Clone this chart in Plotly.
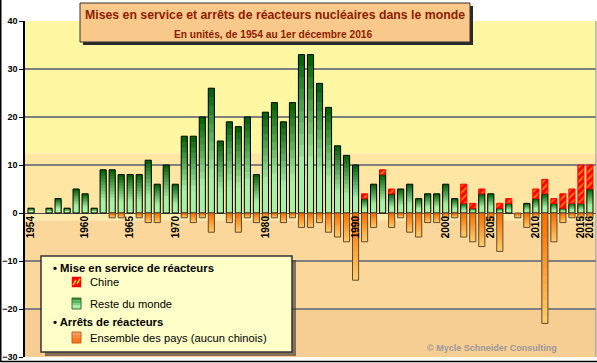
import plotly.graph_objects as go

# ---------------- data ----------------
years = list(range(1954, 2017))
rest_of_world = [1, 0, 1, 3, 1, 5, 4, 1, 9, 9,
                 8, 8, 8, 11, 6, 10, 6, 16, 16, 20,
                 26, 15, 19, 18, 20, 8, 21, 23, 19, 23,
                 33, 33, 27, 22, 14, 12, 10, 3, 6, 8,
                 4, 5, 6, 3, 4, 4, 6, 3, 2, 1,
                 4, 4, 1, 2, 0, 2, 3, 4, 2, 1,
                 2, 2, 5]
china = [0, 0, 0, 0, 0, 0, 0, 0, 0, 0,
         0, 0, 0, 0, 0, 0, 0, 0, 0, 0,
         0, 0, 0, 0, 0, 0, 0, 0, 0, 0,
         0, 0, 0, 0, 0, 0, 0, 1, 0, 1,
         1, 0, 0, 0, 0, 0, 0, 0, 4, 1,
         1, 0, 1, 1, 0, 0, 2, 3, 1, 3,
         3, 8, 5]
shutdowns = [0, 0, 0, 0, 0, 0, 0, 0, 0, -1,
             -1, 0, -1, -2, -2, 0, 0, -1, -2, -1,
             -4, 0, -2, -4, -1, -2, -1, -1, -2, -1,
             -3, -3, -2, -4, -5, -6, -14, -6, -3, 0,
             -3, -1, -4, -5, -2, -2, -1, -1, -5, -6,
             -7, -2, -8, 0, -1, -3, -1, -23, -6, -2,
             -1, -1, -1]
x_tick_years = [1954, 1960, 1965, 1970, 1980, 1990, 2000, 2005, 2010, 2015, 2016]
y_tick_values = [-30, -20, -10, 0, 10, 20, 30, 40]

title_text = "Mises en service et arrêts de réacteurs nucléaires dans le monde"
subtitle_text = "En unités, de 1954 au 1er décembre 2016"
legend_group1 = "• Mise en service de réacteurs"
legend_china = "Chine"
legend_row = "Reste du monde"
legend_group2 = "• Arrêts de réacteurs"
legend_shut = "Ensemble des pays (aucun chinois)"
credit_text = "© Mycle Schneider Consulting"

# ---------------- geometry helpers ----------------
W, H = 597, 363
L, R, T, B = 25, 596, 21, 357
FONT = "Liberation Sans, Arial, sans-serif"


def px(x):
    return (x - L) / (R - L)


def py(y):
    return (B - y) / (B - T)


def lerp(c1, c2, t):
    t = max(0.0, min(1.0, t))
    return "rgb(%d,%d,%d)" % tuple(round(a + (b - a) * t) for a, b in zip(c1, c2))


fig = go.Figure()
BW = 0.68
N = 14

# green gradient (dark at top, light at bottom)
g_dark, g_light = (8, 100, 8), (165, 242, 165)
for k in range(N):
    frac = k / N
    col = lerp(g_dark, g_light, (k / (N - 1)) / 0.72)
    fig.add_trace(go.Bar(
        x=years, y=[v * (1 - frac) if v else None for v in rest_of_world],
        width=BW, marker=dict(color=col, line=dict(width=0)),
        showlegend=False, hoverinfo="skip"))
fig.add_trace(go.Bar(
    x=years, y=[v if v else None for v in rest_of_world], width=BW,
    marker=dict(color="rgba(0,0,0,0)", line=dict(color="#000000", width=1)),
    name=legend_row, showlegend=False))

# China, hatched, stacked on green
fig.add_trace(go.Bar(
    x=years, y=[c if c else None for c in china], base=rest_of_world, width=BW,
    marker=dict(color="#FF0000",
                pattern=dict(shape="/", fgcolor="#FFFF00", bgcolor="#FF0000",
                             size=5, solidity=0.35),
                line=dict(color="#FF0000", width=1)),
    name=legend_china, showlegend=False))

# orange gradient (light at bottom, dark near zero)
o_light, o_dark = (255, 204, 105), (255, 110, 0)
for k in range(N):
    frac = k / N
    col = lerp(o_light, o_dark, k / (N - 1))
    fig.add_trace(go.Bar(
        x=years, y=[v * (1 - frac) if v else None for v in shutdowns],
        width=BW, marker=dict(color=col, line=dict(width=0)),
        showlegend=False, hoverinfo="skip"))
fig.add_trace(go.Bar(
    x=years, y=[v if v else None for v in shutdowns], width=BW,
    marker=dict(color="rgba(0,0,0,0)", line=dict(color="#5e4a30", width=1)),
    name=legend_shut, showlegend=False))

shapes = []
# background bands (data coords)
bands = [(12.4, 40, "#FFF7A2"), (0, 12.4, "#FFE6A2"), (-1.5, 0, "#FFECAC"),
         (-20, -1.5, "#FCD79B"), (-30, -20, "#F6CD93")]
for y0, y1, c in bands:
    shapes.append(dict(type="rect", xref="paper", yref="y", x0=0, x1=1, y0=y0, y1=y1,
                       fillcolor=c, line=dict(width=0), layer="below"))
# right border of plot
shapes.append(dict(type="line", xref="paper", yref="paper", x0=1, x1=1, y0=0, y1=1,
                   line=dict(color="#8a8a8a", width=1)))
# figure frame (left and bottom)
shapes.append(dict(type="line", xref="paper", yref="paper", x0=px(0.75), x1=px(0.75),
                   y0=py(0), y1=py(362), line=dict(color="#000000", width=1.5)))
shapes.append(dict(type="line", xref="paper", yref="paper", x0=px(0), x1=px(597),
                   y0=py(361.5), y1=py(361.5), line=dict(color="#000000", width=1.5)))

# title box with shadow
shapes.append(dict(type="rect", xref="paper", yref="paper", x0=px(83), x1=px(473),
                   y0=py(45), y1=py(6), fillcolor="#2a2a2a", line=dict(width=0)))
shapes.append(dict(type="rect", xref="paper", yref="paper", x0=px(80), x1=px(470),
                   y0=py(42), y1=py(3), fillcolor="#F9C98B",
                   line=dict(color="#333333", width=1)))

# legend box with shadow
shapes.append(dict(type="rect", xref="paper", yref="paper", x0=px(45), x1=px(296),
                   y0=py(356), y1=py(260), fillcolor="rgba(70,60,50,0.65)", line=dict(width=0)))
shapes.append(dict(type="rect", xref="paper", yref="paper", x0=px(41), x1=px(292),
                   y0=py(352), y1=py(256), fillcolor="#FFFFC8",
                   line=dict(color="#333333", width=1.5)))
# China swatch (red with yellow hatches)
shapes.append(dict(type="rect", xref="paper", yref="paper", x0=px(72), x1=px(81),
                   y0=py(287), y1=py(277), fillcolor="#FF0000", line=dict(color="#E00000", width=0.5)))
for a in (0, 4):
    shapes.append(dict(type="line", xref="paper", yref="paper",
                       x0=px(73 + a), x1=px(76 + a), y0=py(285 - a * 0.3), y1=py(280 - a * 0.3),
                       line=dict(color="#FFFF00", width=1.3)))
# green swatch (gradient)
sw_g = [(298, 300.5, "#2F8F2F"), (300.5, 303, "#55B255"), (303, 305.5, "#7fd27f"),
        (305.5, 309, "#a5eea5")]
for y0, y1, c in sw_g:
    shapes.append(dict(type="rect", xref="paper", yref="paper", x0=px(72), x1=px(81),
                       y0=py(y1), y1=py(y0), fillcolor=c, line=dict(width=0)))
shapes.append(dict(type="rect", xref="paper", yref="paper", x0=px(72), x1=px(81),
                   y0=py(309), y1=py(298), fillcolor="rgba(0,0,0,0)",
                   line=dict(color="#3a6a3a", width=1)))
# orange swatch (gradient)
sw_o = [(332, 335, "#FFA060"), (335, 338, "#FF8A3A"), (338, 341, "#FF7A20"), (341, 343, "#FF7010")]
for y0, y1, c in sw_o:
    shapes.append(dict(type="rect", xref="paper", yref="paper", x0=px(72), x1=px(81),
                       y0=py(y1), y1=py(y0), fillcolor=c, line=dict(width=0)))
shapes.append(dict(type="rect", xref="paper", yref="paper", x0=px(72), x1=px(81),
                   y0=py(343), y1=py(332), fillcolor="rgba(0,0,0,0)",
                   line=dict(color="#c06020", width=1)))

annotations = [
    dict(text=title_text, xref="paper", yref="paper", x=px(275), y=py(15),
         xanchor="center", yanchor="middle", showarrow=False,
         font=dict(family=FONT, size=12.3, color="#8E1C00", weight="bold")),
    dict(text=subtitle_text, xref="paper", yref="paper", x=px(273), y=py(34.5),
         xanchor="center", yanchor="middle", showarrow=False,
         font=dict(family=FONT, size=10.2, color="#8E1C00", weight="bold")),
    dict(text=legend_group1, xref="paper", yref="paper", x=px(51), y=py(268),
         xanchor="left", yanchor="middle", showarrow=False,
         font=dict(family=FONT, size=11.3, color="#000000", weight="bold")),
    dict(text=legend_china, xref="paper", yref="paper", x=px(88), y=py(282),
         xanchor="left", yanchor="middle", showarrow=False,
         font=dict(family=FONT, size=11.2, color="#000000")),
    dict(text=legend_row, xref="paper", yref="paper", x=px(88), y=py(303.5),
         xanchor="left", yanchor="middle", showarrow=False,
         font=dict(family=FONT, size=11.2, color="#000000")),
    dict(text=legend_group2, xref="paper", yref="paper", x=px(51), y=py(322),
         xanchor="left", yanchor="middle", showarrow=False,
         font=dict(family=FONT, size=11.3, color="#000000", weight="bold")),
    dict(text=legend_shut, xref="paper", yref="paper", x=px(88), y=py(337.5),
         xanchor="left", yanchor="middle", showarrow=False,
         font=dict(family=FONT, size=11.2, color="#000000")),
    dict(text=credit_text, xref="paper", yref="paper", x=px(492), y=py(347.5),
         xanchor="center", yanchor="middle", showarrow=False,
         font=dict(family=FONT, size=9, color="#9a9a9a", weight="bold")),
]

fig.update_layout(
    width=W, height=H,
    margin=dict(l=L, r=W - R, t=T, b=H - B, pad=0, autoexpand=False),
    paper_bgcolor="#FFFFFF", plot_bgcolor="rgba(0,0,0,0)",
    barmode="overlay", showlegend=False, hovermode=False,
    shapes=shapes, annotations=annotations,
    xaxis=dict(range=[1953.33, 2016.67], anchor="free", position=30 / 70,
               automargin=False,
               tickmode="array", tickvals=x_tick_years,
               ticktext=[str(y) for y in x_tick_years], tickangle=-90,
               tickfont=dict(family=FONT, size=10, color="#000000", weight="bold"),
               showgrid=False, zeroline=False, showline=False, ticks=""),
    yaxis=dict(range=[-30, 40], tickmode="array", tickvals=y_tick_values,
               automargin=False,
               tickfont=dict(family=FONT, size=9, color="#000000", weight="bold"),
               ticks="outside", ticklen=4, tickcolor="#000000", tickwidth=1,
               showline=True, linecolor="#000000", linewidth=1.5,
               showgrid=True, gridcolor="#7f7f7f", gridwidth=1.5,
               zeroline=True, zerolinecolor="#4a4a4a", zerolinewidth=1),
)

fig.write_html("out.html", config={"displayModeBar": False},
               post_script="document.body.style.margin='0';document.body.style.padding='0';")
